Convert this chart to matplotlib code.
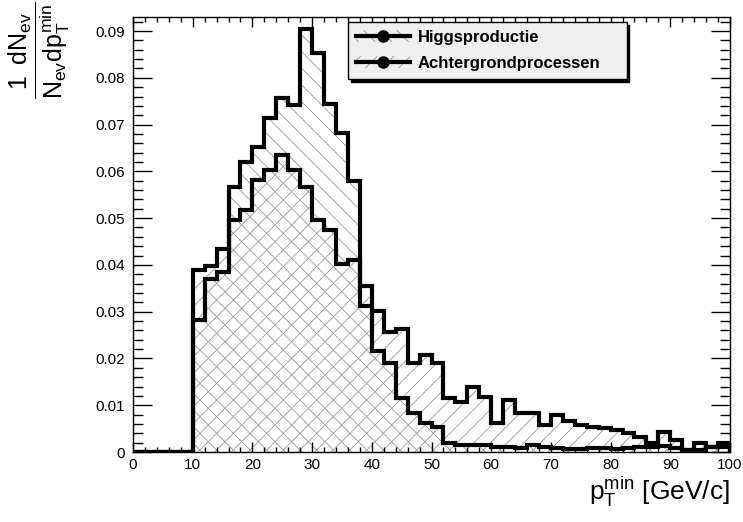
import numpy as np
import matplotlib
matplotlib.use("Agg")
import matplotlib.pyplot as plt
from matplotlib.lines import Line2D
from matplotlib.patches import Patch

plt.rcParams['font.family'] = ['Liberation Sans', 'DejaVu Sans']
plt.rcParams['mathtext.fontset'] = 'custom'
plt.rcParams['mathtext.rm'] = 'Liberation Sans'
plt.rcParams['mathtext.it'] = 'Liberation Sans'
plt.rcParams['mathtext.bf'] = 'Liberation Sans:bold'
plt.rcParams['hatch.linewidth'] = 0.6

# bin edges: 50 bins of 2 GeV/c from 0 to 100
edges = np.arange(0, 101, 2)

higgs = [0, 0, 0, 0, 0,
         0.0282, 0.0369, 0.0385, 0.0567, 0.0619,
         0.0652, 0.0713, 0.0757, 0.0741, 0.0905,
         0.0853, 0.0745, 0.0681, 0.0579, 0.0312,
         0.0216, 0.0190, 0.0115, 0.0083, 0.0061,
         0.0054, 0.0019, 0.0015, 0.0016, 0.0015,
         0.0011, 0.0010, 0.0009, 0.0015, 0.0011,
         0.0009, 0.0006, 0.0006, 0.0009, 0.0009,
         0.0007, 0.0009, 0.0011, 0.0011, 0.0012,
         0.0008, 0.0004, 0.0004, 0.0010, 0.0010]

achtergrond = [0, 0, 0, 0, 0,
               0.0389, 0.0398, 0.0435, 0.0496, 0.0517,
               0.0581, 0.0603, 0.0635, 0.0603, 0.0567,
               0.0496, 0.0474, 0.0403, 0.0410, 0.0355,
               0.0302, 0.0257, 0.0264, 0.0190, 0.0207,
               0.0190, 0.0115, 0.0107, 0.0140, 0.0118,
               0.0061, 0.0111, 0.0083, 0.0083, 0.0058,
               0.0079, 0.0067, 0.0058, 0.0054, 0.0051,
               0.0047, 0.0040, 0.0033, 0.0019, 0.0043,
               0.0026, 0.0004, 0.0020, 0.0011, 0.0020]

labels = ["Higgsproductie", "Achtergrondprocessen"]
yticks = [0, 0.01, 0.02, 0.03, 0.04, 0.05, 0.06, 0.07, 0.08, 0.09]
ytick_labels = ["0", "0.01", "0.02", "0.03", "0.04", "0.05", "0.06", "0.07", "0.08", "0.09"]
xticks = [0, 10, 20, 30, 40, 50, 60, 70, 80, 90, 100]

hatch_grey = "#9a9a9a"

fig = plt.figure(figsize=(7.43, 5.22), dpi=100)
ax = fig.add_axes([133/743, 1-452/522, 597/743, 435/522])

# hatched fills
ax.stairs(higgs, edges, fill=True, facecolor="none", edgecolor=hatch_grey,
          hatch="\\\\", linewidth=0)
ax.stairs(achtergrond, edges, fill=True, facecolor="none", edgecolor=hatch_grey,
          hatch="//", linewidth=0)

# thick outlines
ax.stairs(higgs, edges, baseline=0, color="black", linewidth=3)
ax.stairs(achtergrond, edges, baseline=0, color="black", linewidth=3)

ax.set_xlim(0, 100)
ax.set_ylim(0, 0.093)

ax.set_xticks(xticks)
ax.set_xticks(np.arange(0, 101, 2), minor=True)
ax.set_yticks(yticks)
ax.set_yticklabels(ytick_labels)
ax.set_yticks(np.arange(0, 0.093, 0.002), minor=True)

ax.tick_params(axis="both", which="both", direction="in", top=True, right=True,
               labelsize=11, width=1)
ax.tick_params(axis="x", which="major", length=7.5, pad=4)
ax.tick_params(axis="x", which="minor", length=3.8)
ax.tick_params(axis="y", which="major", length=14, pad=6)
ax.tick_params(axis="y", which="minor", length=7)
for s in ax.spines.values():
    s.set_linewidth(1)

# axis titles
fig.text(730/743, 1-500/522, r"$\mathrm{p_{T}^{min}}$ [GeV/c]", ha="right",
         va="baseline", fontsize=19)
fig.text(39/743, 1-2/522, r"$\dfrac{1\;\;dN_{ev}}{N_{ev}dp_{T}^{min}}$",
         rotation=90, ha="center", va="top", fontsize=18)

# legend in ROOT style
handles = []
for h in ["\\\\", "//"]:
    p = Patch(facecolor="none", edgecolor=hatch_grey, hatch=h, linewidth=0)
    l = Line2D([], [], color="black", linewidth=3, marker="o", markersize=8)
    handles.append((p, l))
leg = ax.legend(handles, labels, loc="upper left",
                bbox_to_anchor=(0.36, 0.855, 0.467, 0.134), mode="expand",
                borderaxespad=0, fancybox=False, framealpha=1,
                facecolor="#f0f0f0", edgecolor="black",
                shadow={"color": "black", "alpha": 1},
                prop={"weight": "bold", "size": 12}, handlelength=3.2,
                handletextpad=0.5, borderpad=0.5, labelspacing=0.65)
leg.get_frame().set_linewidth(1)

fig.savefig("out.png", dpi=100)
